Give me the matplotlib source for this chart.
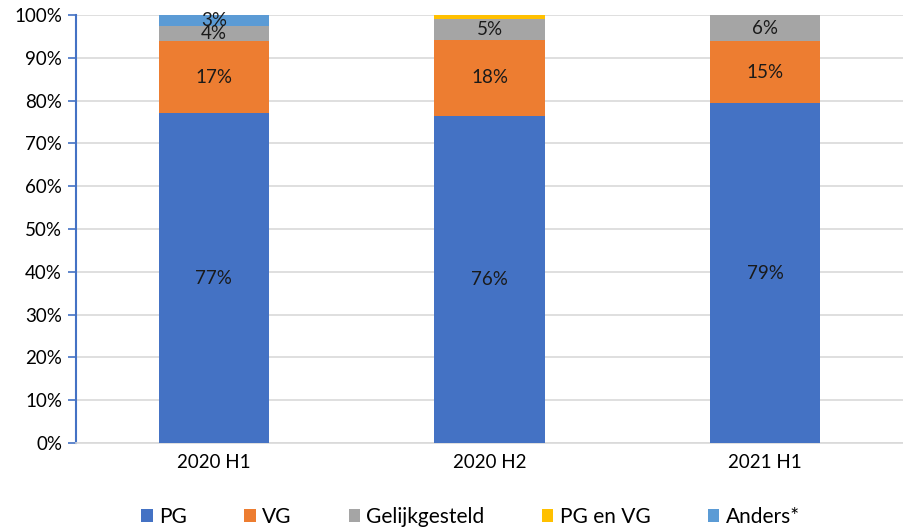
import numpy as np
import matplotlib.pyplot as plt

plt.rcParams['font.family'] = ['Lato', 'DejaVu Sans']

categories = ["2020 H1", "2020 H2", "2021 H1"]
series = ["PG", "VG", "Gelijkgesteld", "PG en VG", "Anders*"]
pg = [77.1, 76.4, 79.4]
vg = [16.8, 17.8, 14.5]
gelijk = [3.5, 4.9, 6.1]
pg_en_vg = [0.0, 0.9, 0.0]
anders = [2.6, 0.0, 0.0]
labels = [
    ["77%", "76%", "79%"],
    ["17%", "18%", "15%"],
    ["4%", "5%", "6%"],
    ["", "", ""],
    ["3%", "", ""],
]
colors = ["#4472C4", "#ED7D31", "#A5A5A5", "#FFC000", "#5B9BD5"]

fig = plt.figure(figsize=(9.04, 5.29), dpi=100)
ax = fig.add_axes([76 / 904, 86 / 529, 827 / 904, 428 / 529])

x = np.arange(len(categories))
bottom = np.zeros(len(categories))
for name, vals, col, labs in zip(series, [pg, vg, gelijk, pg_en_vg, anders], colors, labels):
    vals = np.array(vals)
    ax.bar(x, vals, 0.4, bottom=bottom, color=col, label=name, zorder=3)
    for i in range(len(x)):
        if labs[i]:
            ax.text(x[i], bottom[i] + vals[i] / 2, labs[i], ha="center", va="center",
                    fontsize=13.5, color="#1a1a1a", zorder=4)
    bottom += vals

ax.set_xlim(-0.5, 2.5)
ax.set_ylim(0, 100)
ax.set_yticks(np.arange(0, 101, 10))
ax.set_yticklabels([f"{v}%" for v in range(0, 101, 10)], fontsize=13.5)
ax.set_xticks(x)
ax.set_xticklabels(categories, fontsize=13.5)
ax.tick_params(axis="x", length=0, pad=8)
ax.tick_params(axis="y", length=6, color="#4472C4", width=1.2, pad=4)
ax.grid(axis="y", color="#d9d9d9", linewidth=1.2, zorder=0)
for s in ["top", "right"]:
    ax.spines[s].set_visible(False)
ax.spines["left"].set_color("#4472C4")
ax.spines["left"].set_linewidth(1.5)
ax.spines["bottom"].set_color("#d9d9d9")
ax.spines["bottom"].set_linewidth(1.2)

ax.legend(loc="lower center", bbox_to_anchor=(0.477, -0.24), ncol=5, frameon=False,
          fontsize=15, handlelength=0.55, handleheight=0.55, handletextpad=0.3,
          columnspacing=2.75)

fig.savefig("out.png", dpi=100)
